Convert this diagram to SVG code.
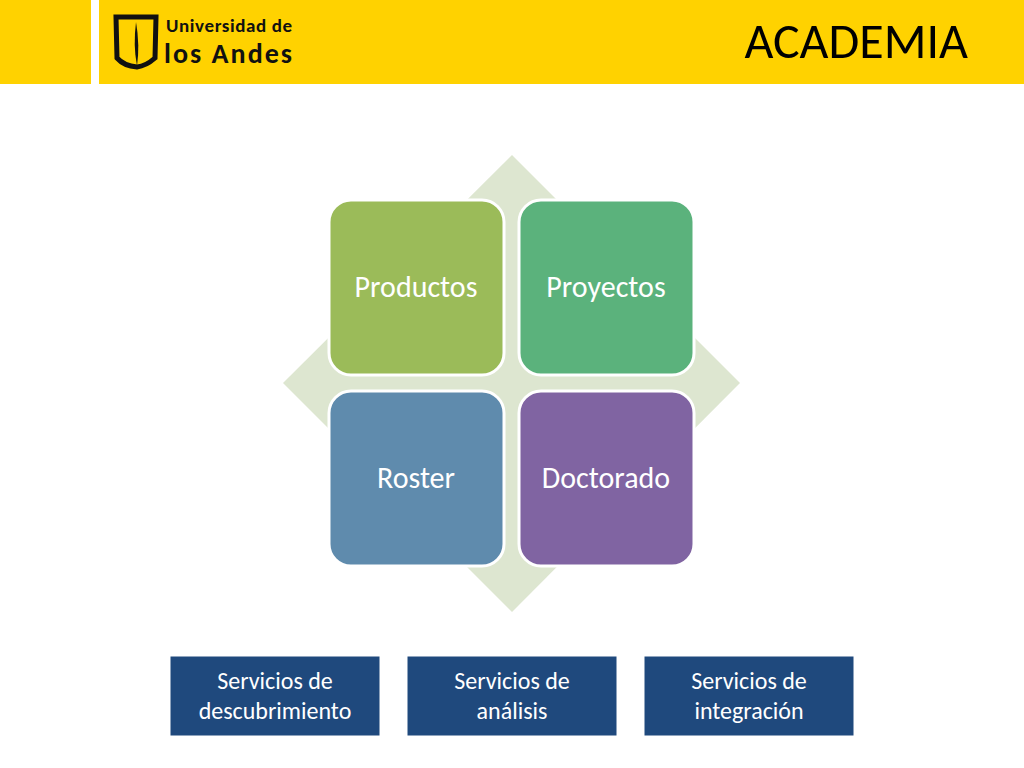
<svg xmlns="http://www.w3.org/2000/svg" width="1024" height="768" viewBox="0 0 1024 768">
<style>
.t{font-family:Calibri,"Carlito","Open Sans","Liberation Sans",sans-serif;}
.q{stroke:#fff;stroke-width:3}
.qt{font-size:30px;fill:#fff;text-anchor:middle}
.b{fill:#1F497D;stroke:#fff;stroke-width:1}
.bt{font-size:24px;fill:#fff;text-anchor:middle}
</style>
<rect width="1024" height="768" fill="#fff"/>
<rect x="0" y="0" width="91" height="84" fill="#FFD200"/>
<rect x="99" y="0" width="925" height="84" fill="#FFD200"/>
<g id="logo">
<path d="M116,17 L156,17 L155,58 Q146,66 137,67 Q124,66 117,58 Z" fill="none" stroke="#111" stroke-width="5"/>
<path d="M136,22 Q140,45 137,66 Q133,45 136,22Z" fill="#111"/>
<text x="166" y="32" class="t" font-size="19" font-weight="bold" fill="#111" textLength="126">Universidad de</text>
<text x="164" y="63" class="t" font-size="28" font-weight="bold" fill="#111" textLength="128">los Andes</text>
</g>
<text x="968" y="58" class="t" font-size="50" fill="#000" text-anchor="end">ACADEMIA</text>
<polygon points="512,155 740,383 512,612 283,383" fill="#DDE6D0"/>
<g id="productos"><rect x="329" y="200" width="175" height="175" rx="22" fill="#9BBB59" class="q"/><text x="416" y="297" class="t qt">Productos</text></g>
<g id="proyectos"><rect x="519" y="200" width="175" height="175" rx="22" fill="#5BB27C" class="q"/><text x="606" y="297" class="t qt">Proyectos</text></g>
<g id="roster"><rect x="329" y="391" width="175" height="175" rx="22" fill="#5F8BAD" class="q"/><text x="416" y="488" class="t qt">Roster</text></g>
<g id="doctorado"><rect x="519" y="391" width="175" height="175" rx="22" fill="#8064A2" class="q"/><text x="606" y="488" class="t qt">Doctorado</text></g>
<g id="s1"><rect x="170" y="656" width="210" height="80" class="b"/><text x="275" y="689" class="t bt">Servicios de</text><text x="275" y="719" class="t bt">descubrimiento</text></g>
<g id="s2"><rect x="407" y="656" width="210" height="80" class="b"/><text x="512" y="689" class="t bt">Servicios de</text><text x="512" y="719" class="t bt">análisis</text></g>
<g id="s3"><rect x="644" y="656" width="210" height="80" class="b"/><text x="749" y="689" class="t bt">Servicios de</text><text x="749" y="719" class="t bt">integración</text></g>
<g id="connectors"/>
</svg>
